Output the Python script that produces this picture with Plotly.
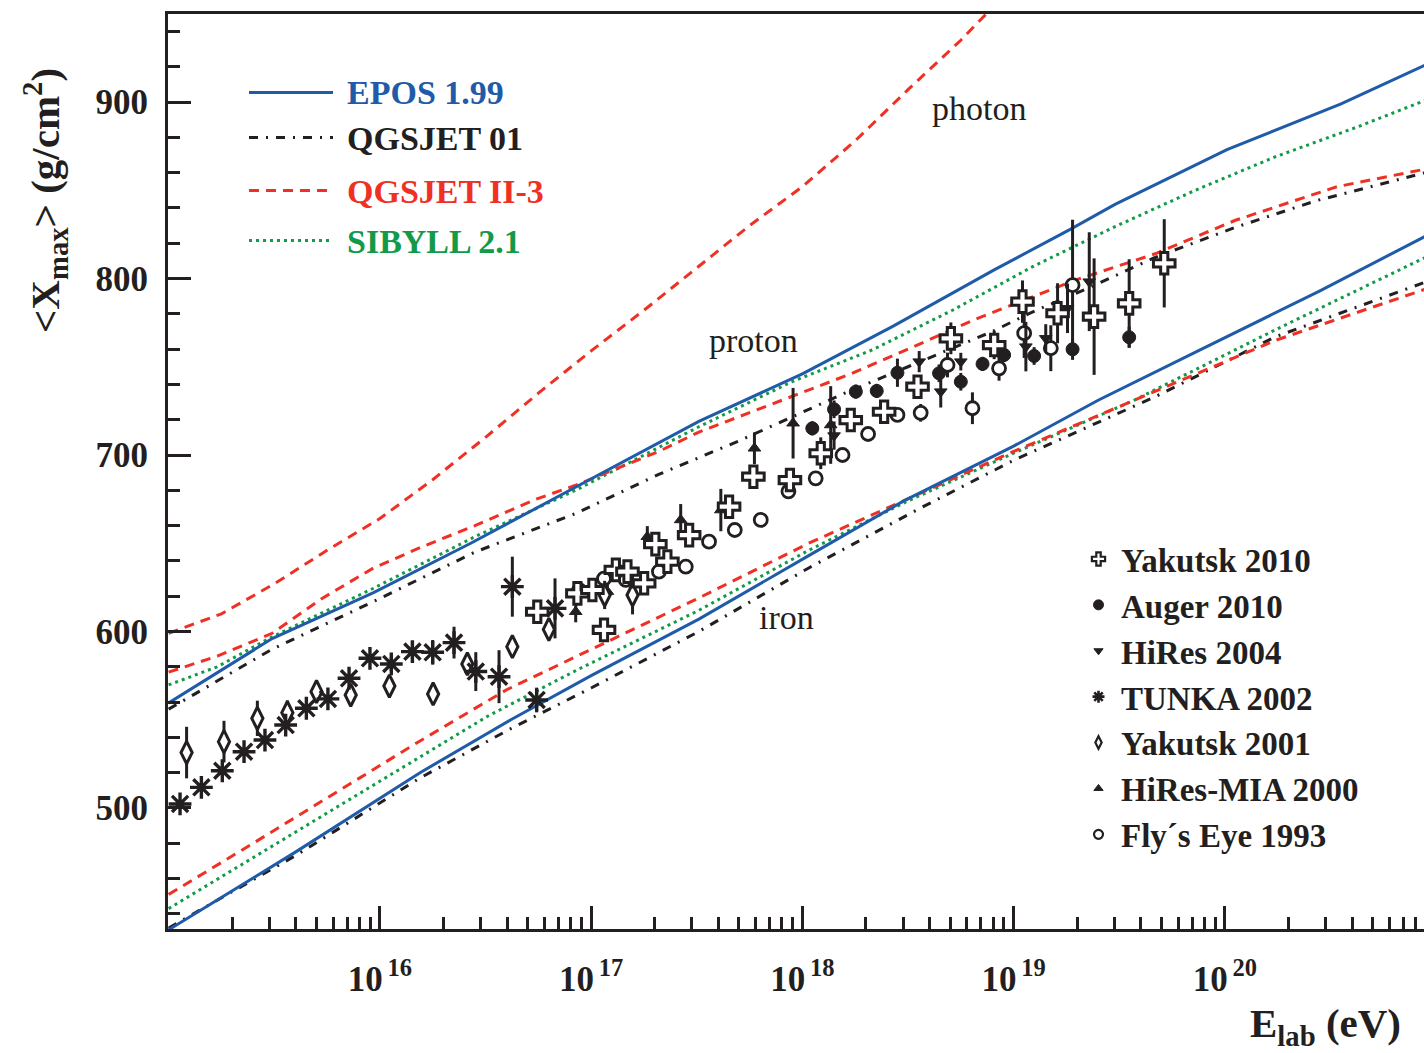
import plotly.graph_objects as go

# ---------------- model predictions: log10(E/eV) and <Xmax> (g/cm^2) ----------------
epos_p_lgE = [15.0, 15.49, 15.97, 16.43, 16.93, 17.51, 18.0, 18.43, 18.91, 19.27, 19.48, 20.01, 20.55, 20.95]
epos_p_X = [559.5, 596, 622, 650, 682, 719, 746, 773, 805, 828, 842, 873, 899, 921]
epos_fe_lgE = [15.0, 15.6, 16.19, 16.62, 17.0, 17.51, 18.03, 18.48, 19.0, 19.4, 19.89, 20.45, 20.95]
epos_fe_X = [431, 475, 520, 550, 575, 607, 643, 674, 705, 731, 760, 793, 824]

qgs01_p_lgE = [15.0, 15.49, 15.97, 16.45, 16.93, 17.32, 17.7, 18.0, 18.2, 18.5, 18.9, 19.07, 19.38, 19.67, 20.05, 20.43, 20.95]
qgs01_p_X = [556, 590, 617, 645, 667, 689, 708, 724, 735, 750, 770, 780, 796, 812, 829, 844, 860]
qgs01_fe_lgE = [15.0, 15.6, 16.19, 16.62, 17.0, 17.51, 18.03, 18.56, 19.0, 19.67, 20.24, 20.95]
qgs01_fe_X = [432, 473, 517, 545, 568, 600, 636, 670, 697, 733, 767, 798]

qgs2_p_lgE = [15.0, 15.23, 15.49, 15.73, 15.97, 16.2, 16.45, 16.74, 16.93, 17.32, 17.51, 18.03, 18.23, 18.52, 18.81, 19.29, 19.67, 20.05, 20.53, 20.95]
qgs2_p_X = [577, 586, 599, 619, 636, 648, 660, 675, 683, 702, 713, 737, 746, 761, 776.5, 799, 814, 833, 852, 862]
qgs2_fe_lgE = [15.0, 15.4, 16.19, 16.6, 16.95, 17.51, 18.03, 18.5, 19.0, 19.57, 20.24, 20.95]
qgs2_fe_X = [451, 480, 538, 567, 587, 619, 650, 675, 702, 731, 765, 794]

sib_p_lgE = [15.0, 15.23, 15.49, 15.97, 16.45, 16.93, 17.51, 17.95, 18.33, 18.71, 19.09, 19.48, 19.86, 20.24, 20.63, 20.95]
sib_p_X = [569.7, 580, 597, 624.5, 653.7, 680.2, 716, 741.5, 759.5, 782, 806.7, 829.4, 850, 869, 886, 901]
sib_fe_lgE = [15.0, 16.19, 16.51, 16.93, 17.51, 18.03, 18.5, 19.0, 19.57, 20.24, 20.95]
sib_fe_X = [443, 529, 552, 578, 612, 646, 674, 701, 731, 771, 812]

photon_lgE = [15.0, 15.25, 15.5, 15.75, 16.0, 16.25, 16.5, 16.75, 17.0, 17.25, 17.5, 17.75, 18.0, 18.25, 18.5, 18.75, 19.0]
photon_X = [599, 610, 627, 646, 664, 686, 710, 735, 759, 782, 806, 830, 852, 878, 907, 935, 966]

# ---------------- measurements: log10(E/eV), <Xmax>, error ----------------
yak10_lgE = [16.745, 16.935, 17.006, 17.061, 17.117, 17.172, 17.251, 17.304, 17.361, 17.464, 17.653, 17.768,
             17.941, 18.087, 18.229, 18.387, 18.545, 18.703, 18.908, 19.042, 19.208, 19.381, 19.547, 19.713]
yak10_X = [611.2, 621.6, 623.5, 600.9, 634.9, 633.9, 627.3, 649.5, 639.6, 654.6, 670.7, 687.7,
           685.8, 701.0, 719.8, 724.5, 738.7, 766.1, 762.3, 786.9, 780.3, 778.4, 785.9, 808.6]
yak10_err = [0, 0, 0, 0, 0, 0, 0, 0, 0, 6, 0, 4, 0, 9, 5, 4, 6, 9, 8, 12, 17, 33, 25, 25]

auger_lgE = [18.047, 18.150, 18.253, 18.352, 18.450, 18.545, 18.647, 18.750, 18.853, 18.955, 19.097, 19.279, 19.547]
auger_X = [715.1, 725.9, 735.9, 736.3, 746.6, 738.7, 746.3, 741.5, 751.6, 756.7, 756.1, 759.9, 766.7]
auger_err = [4, 5, 4, 4, 8, 4, 5, 5, 4, 4, 5, 6, 6]

hires04_lgE = [18.150, 18.553, 18.655, 18.750, 19.058, 19.152, 19.255, 19.358]
hires04_X = [711.0, 752.9, 735.9, 752.9, 761.4, 766.1, 783.1, 798.2]
hires04_err = [8, 6, 9, 5, 14, 8, 14, 28]

tunka_lgE = [15.054, 15.155, 15.254, 15.357, 15.456, 15.554, 15.652, 15.754, 15.854, 15.953,
             16.054, 16.154, 16.250, 16.351, 16.454, 16.564, 16.627, 16.742, 16.829]
tunka_X = [502.3, 511.7, 521.1, 531.9, 538.5, 547.0, 556.5, 561.8, 573.5, 584.8,
           581.6, 588.6, 588.2, 593.7, 577.3, 574.4, 625.4, 561.2, 613.1]
tunka_err = [0, 0, 0, 0, 0, 0, 0, 0, 0, 0, 4, 6, 7, 9, 11, 15, 17, 7, 17]

yak01_lgE = [15.085, 15.262, 15.420, 15.562, 15.700, 15.862, 16.045, 16.252, 16.414, 16.627, 16.800, 17.064, 17.196]
yak01_X = [531.4, 537.6, 550.8, 554.0, 565.9, 564.0, 569.1, 564.6, 581.6, 591.4, 601.2, 620.7, 620.7]
yak01_err = [14.6, 11.8, 10, 7, 0, 0, 0, 0, 0, 0, 5, 8, 11]

hiresmia_lgE = [16.927, 17.077, 17.266, 17.424, 17.614, 17.773, 17.956, 18.134]
hiresmia_X = [611.2, 622.6, 653.7, 663.2, 668.8, 703.8, 718.0, 717.0]
hiresmia_err = [6, 5, 6, 9, 12, 9, 20, 22]

fly_lgE = [16.943, 17.061, 17.164, 17.321, 17.448, 17.558, 17.680, 17.803, 17.934, 18.063,
           18.190, 18.311, 18.450, 18.560, 18.687, 18.805, 18.931, 19.050, 19.176, 19.279]
fly_X = [623.5, 630.0, 629.2, 633.9, 636.7, 650.9, 657.5, 663.2, 679.4, 686.8,
         700.0, 711.9, 722.7, 723.9, 751.0, 726.5, 749.1, 769.0, 760.5, 796.3]
fly_err = [0, 0, 0, 0, 0, 0, 0, 0, 0, 0, 0, 0, 0, 5, 7, 9, 7, 14, 13, 37]

# tick labels
x_tick_exp = [16, 17, 18, 19, 20]
y_tick_vals = [500, 600, 700, 800, 900]

# ---------------- styling ----------------
BLUE = "#1f5ba8"
RED = "#ee3124"
GREEN = "#129a48"
BLACK = "#231f20"
SERIF = "Liberation Serif"
DASH_RED = "10px,7px"
DASH_BLK = "9px,8px,2px,8px"
DASH_GRN = "3px,4px"


def energies(lg):
    return [10.0 ** v for v in lg]


fig = go.Figure()

curves = [
    (sib_p_lgE, sib_p_X, GREEN, DASH_GRN),
    (sib_fe_lgE, sib_fe_X, GREEN, DASH_GRN),
    (qgs01_p_lgE, qgs01_p_X, BLACK, DASH_BLK),
    (qgs01_fe_lgE, qgs01_fe_X, BLACK, DASH_BLK),
    (qgs2_p_lgE, qgs2_p_X, RED, DASH_RED),
    (qgs2_fe_lgE, qgs2_fe_X, RED, DASH_RED),
    (photon_lgE, photon_X, RED, DASH_RED),
    (epos_p_lgE, epos_p_X, BLUE, "solid"),
    (epos_fe_lgE, epos_fe_X, BLUE, "solid"),
]
for lg, xm, col, dash in curves:
    fig.add_trace(go.Scatter(x=energies(lg), y=xm, mode="lines",
                             line=dict(color=col, width=3, dash=dash),
                             showlegend=False, hoverinfo="skip"))

datasets = [
    # name, lgE, X, err, symbol, size, fill, line width, legend size, legend line width, rank
    ("Fly\u00b4s Eye 1993", fly_lgE, fly_X, fly_err, "circle", 13, "white", 2.8, 9, 2.2, 7),
    ("HiRes-MIA 2000", hiresmia_lgE, hiresmia_X, hiresmia_err, "triangle-up", 11, BLACK, 1, 8, 1, 6),
    ("Yakutsk 2001", yak01_lgE, yak01_X, yak01_err, "diamond-tall", 16, "white", 3, 9, 2.2, 5),
    ("TUNKA 2002", tunka_lgE, tunka_X, tunka_err, "asterisk-open", 19, BLACK, 3.4, 10, 2.6, 4),
    ("HiRes 2004", hires04_lgE, hires04_X, hires04_err, "triangle-down", 11, BLACK, 1, 8, 1, 3),
    ("Auger 2010", auger_lgE, auger_X, auger_err, "circle", 13, BLACK, 1, 10, 1, 2),
    ("Yakutsk 2010", yak10_lgE, yak10_X, yak10_err, "cross", 18, "white", 3, 11, 2.2, 1),
]
for name, lg, xm, err, sym, size, fill, lw, lsize, llw, rank in datasets:
    fig.add_trace(go.Scatter(
        x=energies(lg), y=xm, mode="markers", name=name, showlegend=False,
        marker=dict(symbol=sym, size=size, color=fill,
                    line=dict(color=BLACK, width=lw)),
        error_y=dict(type="data", array=err, visible=True, thickness=3, width=0, color=BLACK),
    ))
    # legend entry (small symbol, as in the reference key)
    fig.add_trace(go.Scatter(
        x=[None], y=[None], mode="markers", name=name, legendrank=rank, showlegend=True,
        marker=dict(symbol=sym, size=lsize, color=fill, line=dict(color=BLACK, width=llw)),
    ))

# ---------------- model legend (top left) ----------------
W, H = 1424, 1053
L, R, T, B = 168, 0, 14, 124
PW, PH = W - L - R, H - T - B


def px(xp):
    return (xp - L) / PW


def py(yp):
    return (H - B - yp) / PH


model_legend = [
    ("EPOS 1.99", BLUE, "solid", 92.5),
    ("QGSJET 01", BLACK, DASH_BLK, 137.5),
    ("QGSJET II-3", RED, DASH_RED, 190.5),
    ("SIBYLL 2.1", GREEN, DASH_GRN, 240.5),
]
shapes = []
annotations = []
for txt, col, dash, yp in model_legend:
    shapes.append(dict(type="line", xref="paper", yref="paper",
                       x0=px(249), x1=px(333), y0=py(yp), y1=py(yp),
                       line=dict(color=col, width=3, dash=dash)))
    annotations.append(dict(text=txt, xref="paper", yref="paper", x=px(345), y=py(yp + 0.5),
                            xanchor="left", yanchor="middle", showarrow=False,
                            font=dict(family=SERIF, size=34, color=col, weight="bold")))

# curve labels
for txt, lg, xm in [("photon", 18.834, 896.6), ("proton", 17.77, 765.0), ("iron", 17.925, 608.0)]:
    annotations.append(dict(text=txt, x=lg, y=xm, xref="x", yref="y", showarrow=False,
                            xanchor="center", yanchor="middle",
                            font=dict(family=SERIF, size=34, color=BLACK)))

# axis titles
annotations.append(dict(text="&lt;X<sub>max</sub>&gt; (g/cm<sup>2</sup>)", xref="paper", yref="paper",
                        x=px(45), y=py(200), textangle=-90, showarrow=False,
                        xanchor="center", yanchor="middle",
                        font=dict(family=SERIF, size=41, color=BLACK, weight="bold")))
annotations.append(dict(text="E<sub>lab</sub> (eV)", xref="paper", yref="paper",
                        x=px(1403), y=py(1026), showarrow=False,
                        xanchor="right", yanchor="middle",
                        font=dict(family=SERIF, size=41, color=BLACK, weight="bold")))

x_minor = [d * 10.0 ** k for k in range(14, 21) for d in range(2, 10)]

fig.update_layout(
    width=W, height=H,
    margin=dict(l=L, r=R, t=T, b=B, pad=0),
    paper_bgcolor="white", plot_bgcolor="white",
    shapes=shapes, annotations=annotations,
    showlegend=True,
    legend=dict(x=px(1076), y=py(531), xanchor="left", yanchor="top",
                bgcolor="rgba(0,0,0,0)", borderwidth=0, itemsizing="trace",
                itemwidth=35, tracegroupgap=0, traceorder="normal",
                font=dict(family=SERIF, size=33, color=BLACK, weight="bold")),
    xaxis=dict(type="log", range=[14.997, 20.9426], showgrid=False, zeroline=False,
               showline=True, linewidth=3, linecolor=BLACK, mirror=True,
               ticks="inside", ticklen=23, tickwidth=3, tickcolor=BLACK,
               tickmode="array", tickvals=[10.0 ** e for e in x_tick_exp],
               ticktext=["10<sup>\u2009%d</sup>" % e for e in x_tick_exp],
               ticklabelstandoff=17,
               tickfont=dict(family=SERIF, size=35, color=BLACK, weight="bold"),
               minor=dict(tickmode="array", tickvals=x_minor, ticks="inside",
                          ticklen=12, tickwidth=3, tickcolor=BLACK)),
    yaxis=dict(range=[431.44, 949.86], showgrid=False, zeroline=False,
               showline=True, linewidth=3, linecolor=BLACK, mirror=False,
               ticks="inside", ticklen=23, tickwidth=3, tickcolor=BLACK,
               tickmode="array", tickvals=y_tick_vals,
               ticklabelstandoff=10,
               tickfont=dict(family=SERIF, size=35, color=BLACK, weight="bold"),
               minor=dict(dtick=20, ticks="inside", ticklen=12, tickwidth=3, tickcolor=BLACK)),
)

fig.write_html("out.html")
